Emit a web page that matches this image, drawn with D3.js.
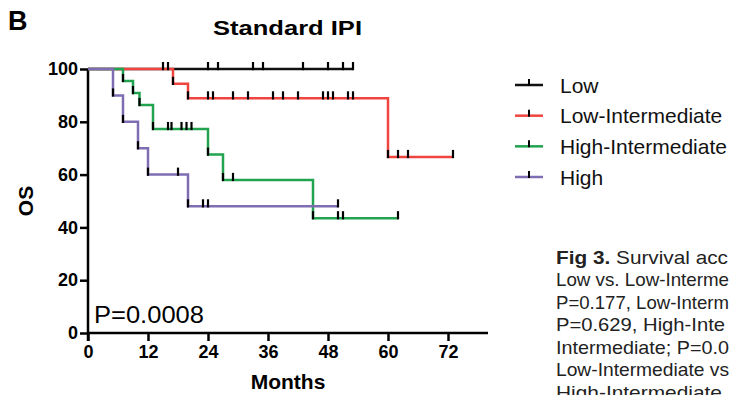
<!DOCTYPE html>
<html>
<head>
<meta charset="utf-8">
<script src="https://cdn.jsdelivr.net/npm/d3@7"></script>
<style>
  body { margin: 0; background: #fff; }
  svg { display: block; font-family: "Liberation Sans", Arial, sans-serif; }
</style>
</head>
<body>
<div id="chart"></div>
<script>
// Kaplan-Meier data (months, OS %)
const groups = ['Low', 'Low-Intermediate', 'High-Intermediate', 'High'];
const colors = ['#111111', '#f0443f', '#21a34f', '#7f6db3'];

// events: [month, survival after the drop]
const lowEvents = [];
const lowIntEvents = [[17, 94.4], [20, 88.9], [60, 66.7]];
const highIntEvents = [[7, 95.5], [9, 90.9], [10.3, 86.4], [13, 77.3], [24, 67.6], [27, 58.0], [45, 43.5]];
const highEvents = [[5, 90], [7, 80], [10, 70], [12, 60], [20, 48]];

// censored times (tick marks)
const lowCens = [15, 16, 24, 26, 33, 35, 43, 48, 51, 53];
const lowIntCens = [24, 25, 29, 32, 37, 39, 42, 47, 48, 49, 52, 53, 62, 64, 73];
const highIntCens = [16, 16.7, 18.7, 19.7, 20.7, 29, 50, 51, 62];
const highCens = [18, 23, 24, 50];

// last follow-up per group
const lastTime = [53, 73, 62, 50];

const xTicks = [0, 12, 24, 36, 48, 60, 72];
const yTicks = [0, 20, 40, 60, 80, 100];

// caption as far as it shows inside the frame
const captionLines = [
  ['Fig 3.', ' Survival acc'],
  ['', 'Low vs. Low-Interme'],
  ['', 'P=0.177, Low-Interm'],
  ['', 'P=0.629, High-Inte'],
  ['', 'Intermediate; P=0.0'],
  ['', 'Low-Intermediate vs'],
  ['', 'High-Intermediate']
];
const captionWidths = [172, 173, 173, 169, 173, 173, 166];

const width = 733, height = 395;
const svg = d3.select('#chart').append('svg')
  .attr('width', width).attr('height', height);

const x = d3.scaleLinear().domain([0, 80]).range([88, 488]);
const y = d3.scaleLinear().domain([0, 100]).range([333, 69]);

// axes
const xAxis = svg.append('g')
  .attr('transform', `translate(0,${y(0)})`)
  .call(d3.axisBottom(x).tickValues(xTicks).tickSize(8).tickSizeOuter(0));
const yAxis = svg.append('g')
  .attr('transform', `translate(${x(0)},0)`)
  .call(d3.axisLeft(y).tickValues(yTicks).tickSize(8).tickSizeOuter(0));

[xAxis, yAxis].forEach(g => {
  g.select('.domain').attr('stroke', '#000').attr('stroke-width', 2.5);
  g.selectAll('.tick line').attr('stroke', '#000').attr('stroke-width', 2.5);
  g.selectAll('.tick text')
    .attr('fill', '#000')
    .style('font-size', '18px')
    .style('font-weight', 'bold')
    .style('font-family', '"Liberation Sans", Arial, sans-serif');
});
xAxis.selectAll('.tick text').attr('dy', '0.85em').attr('y', 10);
yAxis.selectAll('.tick text').attr('x', -10);
// x axis starts at the y axis line
xAxis.select('.domain').attr('d', `M${x(0) - 1},0H${x(80)}`);
yAxis.select('.domain').attr('d', `M0,${y(100)}V${y(0) + 8}`);

// curves
const eventsAll = [lowEvents, lowIntEvents, highIntEvents, highEvents];
const censAll = [lowCens, lowIntCens, highIntCens, highCens];

function levelAt(events, t) {
  let s = 100;
  events.forEach(([et, es]) => { if (et <= t) s = es; });
  return s;
}

const line = d3.line()
  .x(d => x(d[0]))
  .y(d => y(d[1]))
  .curve(d3.curveStepAfter);

const curves = svg.append('g');
groups.forEach((g, i) => {
  const pts = [[0, 100], ...eventsAll[i], [lastTime[i], levelAt(eventsAll[i], lastTime[i])]];
  curves.append('path')
    .attr('d', line(pts))
    .attr('fill', 'none')
    .attr('stroke', colors[i])
    .attr('stroke-width', 2.5);
});

// tick marks: censored times and bottom of each drop
const marks = svg.append('g');
groups.forEach((g, i) => {
  const ticks = censAll[i].map(t => [t, levelAt(eventsAll[i], t)])
    .concat(eventsAll[i]);
  marks.selectAll(null)
    .data(ticks)
    .join('line')
    .attr('x1', d => x(d[0])).attr('x2', d => x(d[0]))
    .attr('y1', d => y(d[1]) - 7).attr('y2', d => y(d[1]) + 1.2)
    .attr('stroke', '#000')
    .attr('stroke-width', 2.2);
});

// p value
svg.append('text')
  .attr('x', 94).attr('y', 323)
  .attr('textLength', 110).attr('lengthAdjust', 'spacingAndGlyphs')
  .style('font-size', '23px')
  .text('P=0.0008');

// titles and axis labels
svg.append('text')
  .attr('x', 8).attr('y', 30)
  .style('font-size', '27px').style('font-weight', 'bold')
  .text('B');
svg.append('text')
  .attr('x', 213).attr('y', 35)
  .attr('textLength', 149).attr('lengthAdjust', 'spacingAndGlyphs')
  .style('font-size', '21px').style('font-weight', 'bold')
  .text('Standard IPI');
svg.append('text')
  .attr('x', 288).attr('y', 389)
  .attr('text-anchor', 'middle')
  .style('font-size', '21px').style('font-weight', 'bold')
  .text('Months');
svg.append('text')
  .attr('transform', `translate(33,${(y(0) + y(100)) / 2}) rotate(-90)`)
  .attr('text-anchor', 'middle')
  .style('font-size', '21px').style('font-weight', 'bold')
  .text('OS');

// legend
const legendY = d3.scalePoint().domain(groups).range([85, 177]);
const legend = svg.append('g');
groups.forEach((g, i) => {
  const ly = legendY(g);
  legend.append('line')
    .attr('x1', 515).attr('x2', 543).attr('y1', ly).attr('y2', ly)
    .attr('stroke', colors[i]).attr('stroke-width', 2.5);
  legend.append('line')
    .attr('x1', 529).attr('x2', 529).attr('y1', ly - 6).attr('y2', ly + 1)
    .attr('stroke', '#000').attr('stroke-width', 2);
  legend.append('text')
    .attr('x', 560).attr('y', ly + 7.5)
    .style('font-size', '21px')
    .attr('fill', '#111')
    .text(g);
});

// caption
const cap = svg.append('g');
captionLines.forEach((ln, i) => {
  const t = cap.append('text')
    .attr('x', 556).attr('y', 263.5 + i * 22.5)
    .attr('textLength', captionWidths[i]).attr('lengthAdjust', 'spacingAndGlyphs')
    .style('font-size', '19px')
    .attr('fill', '#222');
  if (ln[0]) t.append('tspan').style('font-weight', 'bold').text(ln[0]);
  t.append('tspan').text(ln[1]);
});
</script>
</body>
</html>
